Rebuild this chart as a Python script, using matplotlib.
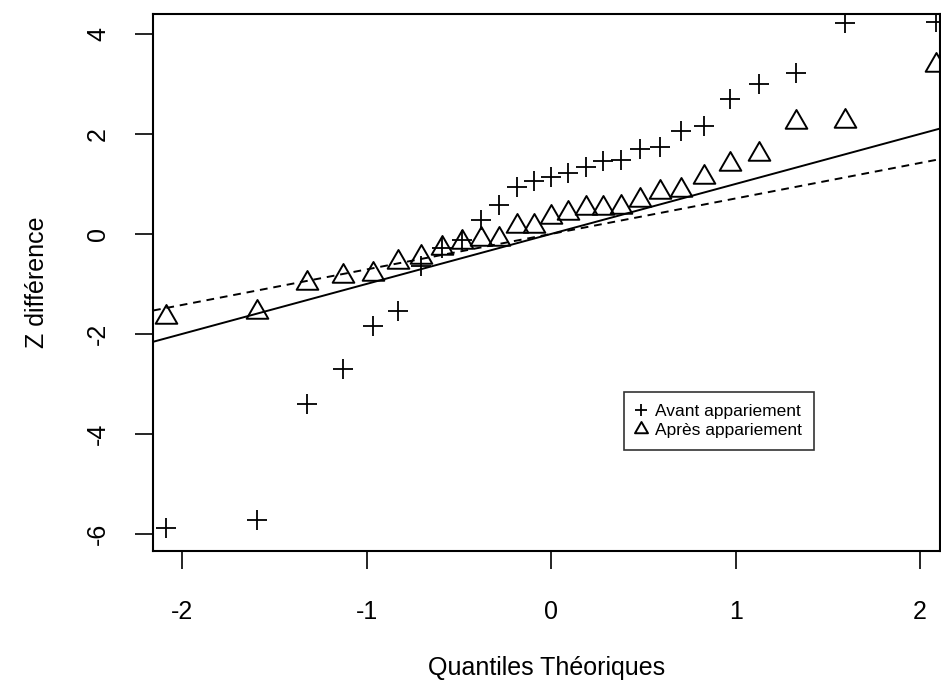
import matplotlib
matplotlib.use("Agg")

import matplotlib.pyplot as plt
from matplotlib.path import Path

# theoretical quantiles (n = 27)
quantiles = [-2.086, -1.593, -1.325, -1.128, -0.967, -0.828, -0.704, -0.589, -0.482,
             -0.380, -0.282, -0.187, -0.093, 0.0, 0.093, 0.187, 0.282, 0.380,
             0.482, 0.589, 0.704, 0.828, 0.967, 1.128, 1.325, 1.593, 2.086]

z_avant = [-5.88, -5.72, -3.40, -2.70, -1.84, -1.54, -0.64, -0.28, -0.12,
           0.28, 0.58, 0.94, 1.06, 1.14, 1.22, 1.34, 1.46, 1.48,
           1.70, 1.74, 2.06, 2.16, 2.70, 3.00, 3.22, 4.22, 4.24]

z_apres = [-1.66, -1.56, -0.98, -0.84, -0.80, -0.56, -0.46, -0.28, -0.16,
           -0.10, -0.10, 0.16, 0.16, 0.34, 0.42, 0.52, 0.52, 0.54,
           0.68, 0.84, 0.88, 1.14, 1.40, 1.60, 2.24, 2.26, 3.38]

# reference lines (intercept, slope)
line_avant = (0.0, 1.0)
line_apres = (0.0, 0.71)

series_labels = ["Avant appariement", "Après appariement"]
x_ticks = [-2, -1, 0, 1, 2]
y_ticks = [-6, -4, -2, 0, 2, 4]

FONT = ["Liberation Sans", "DejaVu Sans"]
plt.rcParams["font.family"] = FONT
plt.rcParams["axes.unicode_minus"] = False  # R draws a plain hyphen

# equilateral triangle like R pch = 2
tri = Path([(0, 0.577), (-0.5, -0.289), (0.5, -0.289), (0, 0.577)],
           [Path.MOVETO, Path.LINETO, Path.LINETO, Path.CLOSEPOLY])

fig = plt.figure(figsize=(9.41, 6.97), dpi=100)
ax = fig.add_axes([0.1626, 0.2095, 0.8364, 0.7705])

ax.plot(quantiles, z_avant, linestyle="", marker="+", markersize=15,
        markeredgewidth=1.3, color="black", label=series_labels[0])
ax.plot(quantiles, z_apres, linestyle="", marker=tri, markersize=18,
        markeredgewidth=1.4, markerfacecolor="none", color="black",
        label=series_labels[1])

ax.axline((0, line_avant[0]), slope=line_avant[1], color="black", linewidth=1.4)
ax.axline((0, line_apres[0]), slope=line_apres[1], color="black", linewidth=1.4,
          linestyle=(0, (4, 3)))

ax.set_xlim(-2.157, 2.108)
ax.set_ylim(-6.34, 4.4)

ax.set_xticks(x_ticks)
ax.set_yticks(y_ticks)
ax.tick_params(axis="both", direction="out", length=13, width=1.2, labelsize=18)
ax.tick_params(axis="x", pad=22)
ax.tick_params(axis="y", pad=18)
for lab in ax.get_yticklabels():
    lab.set_rotation(90)
    lab.set_va("center")

for spine in ax.spines.values():
    spine.set_linewidth(1.5)

ax.set_xlabel("Quantiles Théoriques", fontsize=18)
ax.set_ylabel("Z différence", fontsize=18)
ax.xaxis.set_label_coords(0.5, -0.218)
ax.yaxis.set_label_coords(-0.147, 0.5)
ax.xaxis.label.set_va("center")
ax.yaxis.label.set_va("center")

leg = ax.legend(loc="upper left", bbox_to_anchor=(0.598, 0.296), fontsize=12.5,
                frameon=True, fancybox=False, edgecolor="black",
                handlelength=0.6, handletextpad=0.5, borderpad=0.7,
                labelspacing=0.2, markerscale=0.6, borderaxespad=0)
leg.get_frame().set_linewidth(1.2)

fig.savefig("out.png", dpi=100)
